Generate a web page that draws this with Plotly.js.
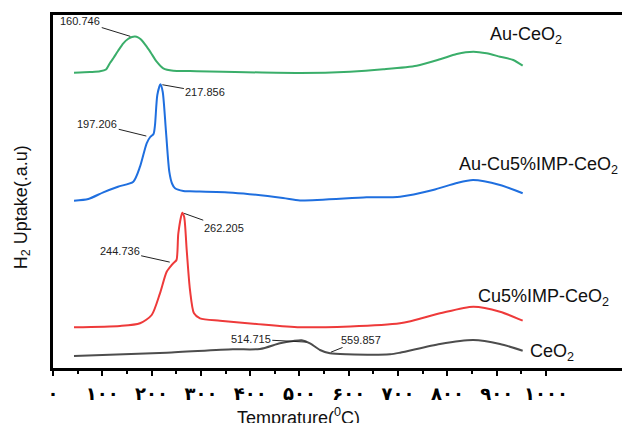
<!DOCTYPE html>
<html><head><meta charset="utf-8">
<script src="https://cdn.plot.ly/plotly-3.0.1.min.js"></script>
<style>html,body{margin:0;padding:0;overflow:hidden;background:#fff}#chart{width:700px;height:423px}</style>
</head><body><div id="chart"></div>
<script>
// Temperatures (°C) and H2 uptake (a.u., stacked)
const tempAu = [42.6, 75.1, 95.3, 107.5, 115.6, 122.3, 131.8, 142.6, 152.1, 160.2, 166.3, 172.4, 178.5, 190.1, 198.8, 210.3, 223.7, 244, 277.9, 501, 602.4, 670, 737.7, 785, 818.9, 852.5, 879.7, 906.7, 933.7, 952.7];
const yAu    = [295.3, 296, 296.7, 298.5, 305, 309.7, 317, 324.7, 329, 331, 331.4, 330.7, 328.5, 321.3, 315, 306.3, 299.7, 297.3, 297, 295, 296.3, 298.7, 302.3, 308.7, 314, 316.3, 314.7, 311.3, 308, 302.3];

const tempAuCu = [42.6, 71.6, 102, 131.8, 162.9, 176.5, 190, 197.2, 203.9, 206.9, 211.6, 217.9, 222.5, 229.2, 235.9, 241.4, 247.5, 264.3, 277.9, 365, 466.5, 501, 636, 703.9, 770.8, 818.9, 852, 906.7, 952.7];
const yAuCu    = [167.3, 169, 175.7, 181.3, 186.3, 201.3, 224.7, 231, 234, 243, 273, 283.7, 276.3, 236.3, 196.3, 184.5, 179.7, 177, 176.7, 175.3, 170, 167.5, 170.7, 171.3, 178, 185, 188, 183, 174.7];

const tempCu = [42.6, 135.9, 176.5, 200.2, 217, 230.6, 240.8, 244.7, 250.5, 254.2, 262.2, 266, 271.2, 277.9, 286, 298.2, 338.7, 413.2, 501, 703.9, 785, 852.5, 906.7, 952.7];
const yCu    = [40.7, 42, 44.7, 53, 74.7, 96.3, 103, 105, 108, 134.7, 155.3, 151.3, 118, 78, 54.7, 49.7, 47.3, 44, 40.7, 44.7, 54.7, 61.3, 56.3, 47.3];

const tempCe = [42.6, 230.6, 365, 419.9, 460.4, 487.4, 504.5, 521.3, 541.6, 561.9, 595.7, 683.6, 703.9, 785, 852.5, 906.7, 952.7];
const yCe    = [12, 15.3, 18.7, 19, 24.7, 27, 27.7, 24.7, 18, 14.7, 13.7, 13.7, 15.3, 24, 28, 24, 17.3];

const seriesNames = ['Au-CeO<sub>2</sub>', 'Au-Cu5%IMP-CeO<sub>2</sub>', 'Cu5%IMP-CeO<sub>2</sub>', 'CeO<sub>2</sub>'];
const seriesColors = ['#3aae6a', '#1f6fdf', '#ee3a3a', '#4d4d4d'];

// peak labels: [temperature, series index]
const peakTemps  = [160.746, 217.856, 197.206, 262.205, 244.736, 514.715, 559.857];
const peakSeries = [0, 1, 1, 2, 2, 3, 3];

const tickVals = [0, 100, 200, 300, 400, 500, 600, 700, 800, 900, 1000];
const tickText = ['۰', '۱۰۰', '۲۰۰', '۳۰۰', '۴۰۰', '۵۰۰', '۶۰۰', '۷۰۰', '۸۰۰', '۹۰۰', '۱۰۰۰'];
const minorVals = [50, 150, 250, 350, 450, 550, 650, 750, 850, 950];

const X = [tempAu, tempAuCu, tempCu, tempCe];
const Y = [yAu, yAuCu, yCu, yCe];

function interp(xs, ys, t) {
  for (let i = 0; i < xs.length - 1; i++) {
    if (t >= xs[i] && t <= xs[i + 1]) {
      const f = (t - xs[i]) / (xs[i + 1] - xs[i]);
      return ys[i] + f * (ys[i + 1] - ys[i]);
    }
  }
  return ys[ys.length - 1];
}

const traces = X.map((xs, i) => ({
  x: xs, y: Y[i], type: 'scatter', mode: 'lines',
  line: {color: seriesColors[i], width: 2, shape: 'spline', smoothing: 0.7},
  hoverinfo: 'skip', showlegend: false
}));

// label offsets (px) for peak annotations
const peakAx = [-52, 45, -53, 42, -54, -56, 32];
const peakAy = [-16, 8, -13, 15, -12, -3, -13];
const peakStand = [2, 2, 4, 2, 4, 0, 2];

const annotations = peakTemps.map((t, i) => ({
  x: t, y: interp(X[peakSeries[i]], Y[peakSeries[i]], t), xref: 'x', yref: 'y',
  text: t.toFixed(3), showarrow: true, arrowhead: 0, arrowwidth: 1, arrowcolor: '#222',
  ax: peakAx[i], ay: peakAy[i], standoff: peakStand[i],
  font: {family: 'Liberation Sans, Arial, sans-serif', size: 11, color: '#222'}
}));

const nameX = [882.4, 819.5, 857.4, 964];
const nameY = [333, 202.3, 70.7, 15.7];
seriesNames.forEach((n, i) => annotations.push({
  x: nameX[i], y: nameY[i], xref: 'x', yref: 'y', text: n, showarrow: false,
  xanchor: 'left', yanchor: 'middle',
  font: {family: 'Liberation Sans, Arial, sans-serif', size: 18, color: '#111'}
}));

// axis titles
annotations.push({
  x: 497, y: 0, xref: 'x', yref: 'paper', yanchor: 'top', yshift: -35, showarrow: false,
  text: 'Temprature(<sup>0</sup>C)',
  font: {family: 'Liberation Sans, Arial, sans-serif', size: 18, color: '#111'}
});
annotations.push({
  x: -0.048, y: 0.455, xref: 'paper', yref: 'paper', showarrow: false, textangle: -90,
  xanchor: 'center', yanchor: 'middle',
  text: 'H<sub>2</sub> Uptake(.a.u)',
  font: {family: 'Liberation Sans, Arial, sans-serif', size: 18, color: '#111'}
});

const layout = {
  width: 700, height: 423,
  margin: {l: 53, r: 0, t: 15, b: 55},
  paper_bgcolor: '#fff', plot_bgcolor: '#fff',
  xaxis: {
    range: [0, 1312.4], tickmode: 'array', tickvals: tickVals, ticktext: tickText,
    ticks: 'outside', ticklen: 5, tickwidth: 2, tickcolor: '#000',
    minor: {tickmode: 'array', tickvals: minorVals, ticks: 'outside', ticklen: 3, tickwidth: 2, tickcolor: '#000', showgrid: false},
    showline: true, linewidth: 3, linecolor: '#000', mirror: true,
    showgrid: false, zeroline: false, ticklabelstandoff: 2,
    tickfont: {family: 'DejaVu Sans, sans-serif', size: 18, color: '#000', weight: 'bold'}
  },
  yaxis: {
    range: [0, 353], showticklabels: false, ticks: '', showgrid: false, zeroline: false,
    showline: true, linewidth: 3, linecolor: '#000', mirror: true
  },
  annotations: annotations
};

Plotly.newPlot('chart', traces, layout, {displayModeBar: false, staticPlot: true});
</script>
</body></html>
